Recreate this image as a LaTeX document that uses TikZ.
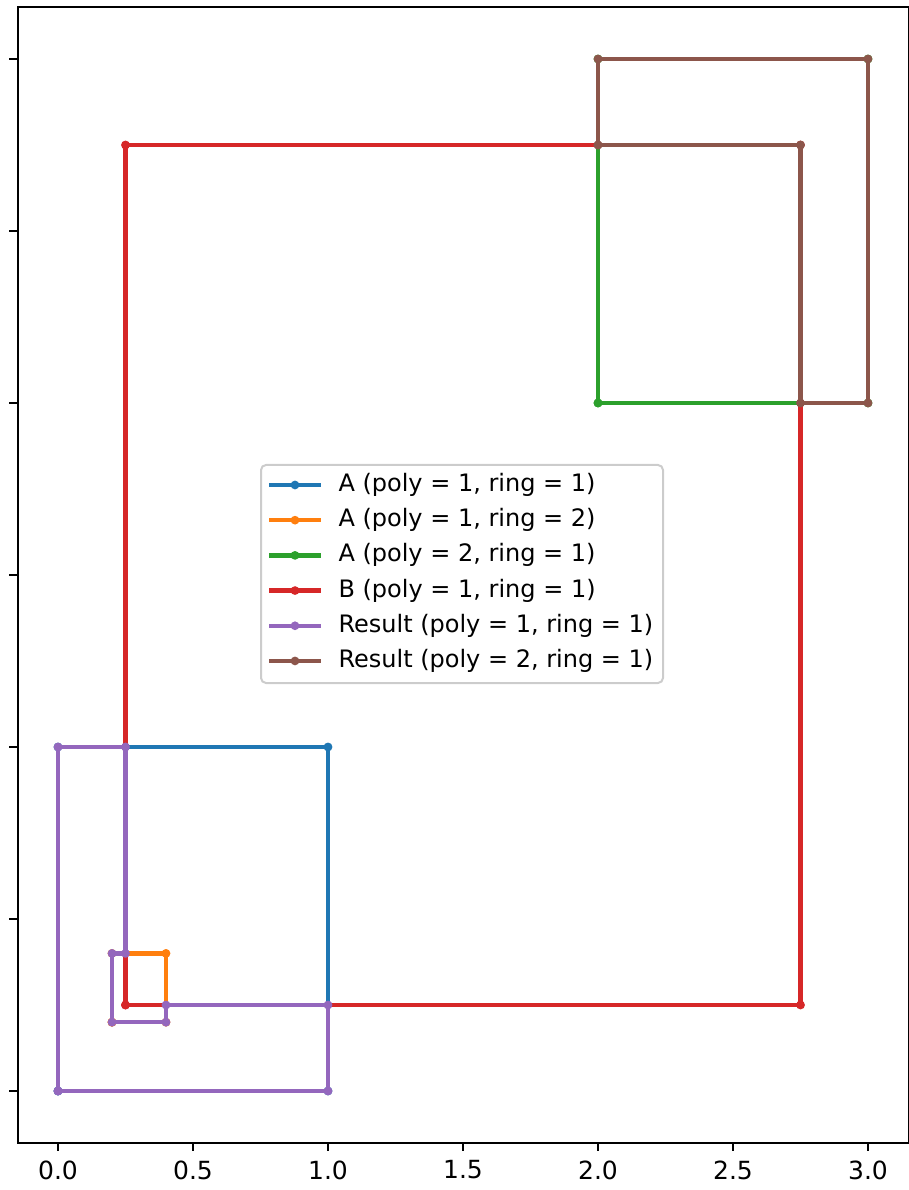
\documentclass[tikz,border=0pt]{standalone}
\usepackage{fontspec}
\setmainfont{DejaVu Sans}
\usetikzlibrary{positioning, calc}

\definecolor{tabblue}{HTML}{1F77B4}
\definecolor{taborange}{HTML}{FF7F0E}
\definecolor{tabgreen}{HTML}{2CA02C}
\definecolor{tabred}{HTML}{D62728}
\definecolor{tabpurple}{HTML}{9467BD}
\definecolor{tabbrown}{HTML}{8C564B}

\begin{document}
\begin{tikzpicture}[
    x=108pt, y=137.6pt,
    font=\fontsize{10}{12}\selectfont,
    ringline/.style={line width=1.7pt, line join=round, mark=*, mark size=1.5pt, mark options={line width=0.5pt}},
    handle/.style={line width=1.7pt},
    spine/.style={line width=0.8pt, line join=miter},
    tickmark/.style={line width=0.8pt},
    ticklabel/.style={anchor=north, inner sep=0pt, yshift=-7pt},
    legframe/.style={draw=black!20, line width=0.8pt, fill=white, fill opacity=0.8, rounded corners=2pt},
    legtext/.style={anchor=west, inner sep=0pt, font=\fontsize{9.6}{12}\selectfont},
    ]

    % page size
    \useasboundingbox (-0.21481,-0.28779) rectangle (3.15185,3.17151);

    % ==========================================
    % Rings
    % ==========================================
    \draw[ringline, tabblue]   plot coordinates {(0,0) (1,0) (1,1) (0,1) (0,0)};
    \draw[ringline, taborange] plot coordinates {(0.2,0.2) (0.4,0.2) (0.4,0.4) (0.2,0.4) (0.2,0.2)};
    \draw[ringline, tabgreen]  plot coordinates {(2,2) (3,2) (3,3) (2,3) (2,2)};
    \draw[ringline, tabred]    plot coordinates {(0.25,0.25) (2.75,0.25) (2.75,2.75) (0.25,2.75) (0.25,0.25)};
    \draw[ringline, tabpurple] plot coordinates {(0,0) (1,0) (1,0.25) (0.4,0.25) (0.4,0.2) (0.2,0.2)
        (0.2,0.4) (0.25,0.4) (0.25,1) (0,1) (0,0)};
    \draw[ringline, tabbrown]  plot coordinates {(2,2.75) (2,3) (3,3) (3,2) (2.75,2) (2.75,2.75) (2,2.75)};

    % ==========================================
    % Axes
    % ==========================================
    \draw[spine] (-0.15,-0.15) rectangle (3.15,3.15);

    \foreach \t/\lbl [count=\k] in {0/0.0, 0.5/0.5, 1/1.0, 1.5/1.5, 2/2.0, 2.5/2.5, 3/3.0} {
        \coordinate (xt-\k) at (\t,-0.15);
        \draw[tickmark] (xt-\k) -- ++(0,-3.5pt);
        \node[ticklabel] (xl-\k) at (xt-\k) {\lbl};
    }
    \foreach \t [count=\k] in {0,0.5,...,3} {
        \coordinate (yt-\k) at (-0.15,\t);
        \draw[tickmark] (yt-\k) -- ++(-3.5pt,0);
    }

    % ==========================================
    % Legend
    % ==========================================
    \draw[legframe] (0.7519,1.8198) rectangle (2.2407,1.1860);

    \foreach \clr/\lbl [count=\i] in {
        tabblue/{A (poly = 1, ring = 1)},
        taborange/{A (poly = 1, ring = 2)},
        tabgreen/{A (poly = 2, ring = 1)},
        tabred/{B (poly = 1, ring = 1)},
        tabpurple/{Result (poly = 1, ring = 1)},
        tabbrown/{Result (poly = 2, ring = 1)}}
    {
        \pgfmathsetmacro{\ry}{1.7616 - (\i-1)*0.1023}
        \coordinate (hs-\i) at (0.7815,\ry);
        \coordinate (he-\i) at (0.9741,\ry);
        \draw[handle, \clr] (hs-\i) -- (he-\i);
        \fill[\clr] ($(hs-\i)!0.5!(he-\i)$) circle (1.75pt);
        \node[legtext, right=6.8pt of he-\i] (lbl-\i) {\lbl};
    }

\end{tikzpicture}
\end{document}
